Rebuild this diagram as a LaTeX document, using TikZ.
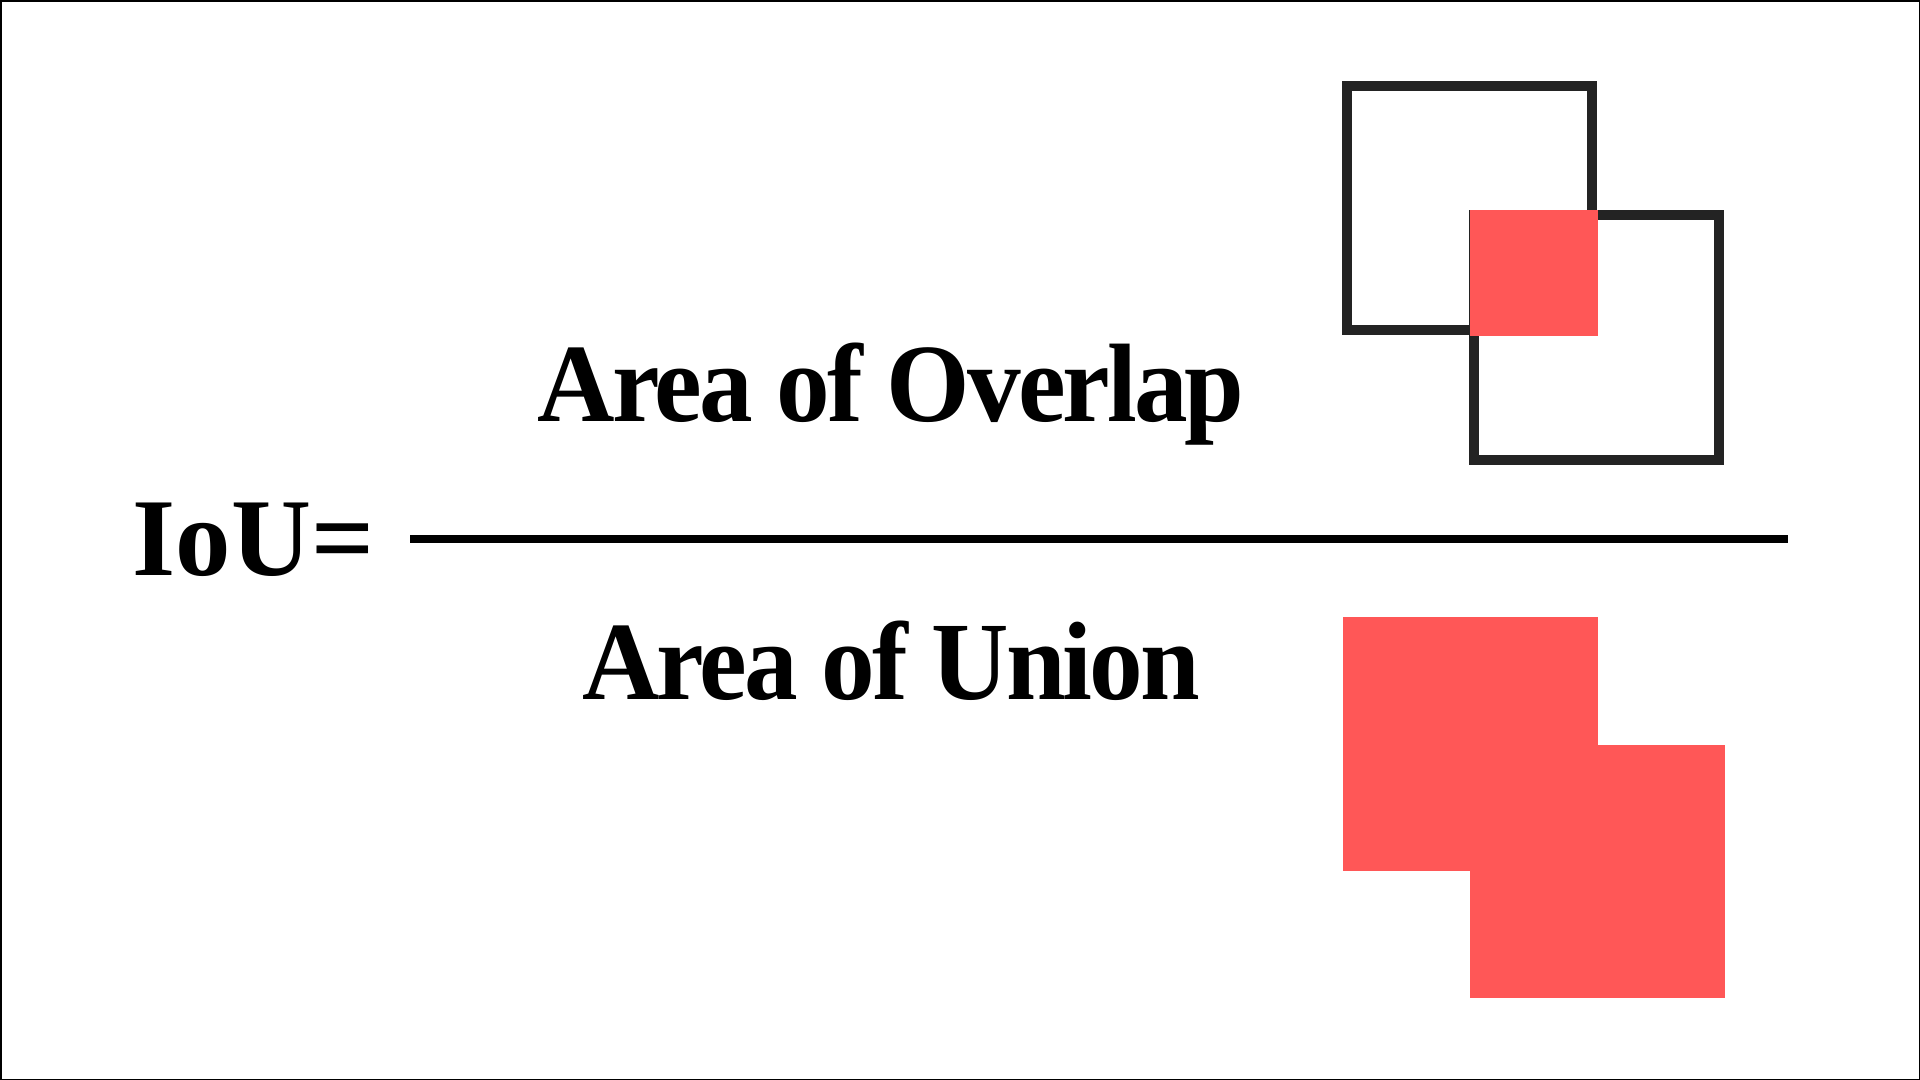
\documentclass[tikz,border=0pt]{standalone}
\usepackage{fontspec}
\setmainfont{Liberation Serif}
\newfontfamily\tightserif[LetterSpace=-2.8]{Liberation Serif}
\usepackage{xcolor}
\usepackage{graphicx}
\usepackage{tikz}
\usetikzlibrary{positioning}

\definecolor{iouRed}{RGB}{255,87,87}
\definecolor{iouGray}{RGB}{35,35,35}
\newcommand{\tallbf}[1]{\scalebox{1}[1.04]{#1}}

\begin{document}
\begin{tikzpicture}[
  x=0.01cm, y=-0.01cm,
  big/.style={font=\tightserif\fontsize{30.5}{36}\selectfont\bfseries,inner sep=0pt},
  bigger/.style={font=\fontsize{31.5}{36}\selectfont\bfseries,inner sep=0pt},
  outline/.style={draw=iouGray,line width=0.1cm,minimum width=2.45cm,minimum height=2.44cm,inner sep=0pt},
  patch/.style={fill=iouRed,inner sep=0pt,anchor=north west}
]
\useasboundingbox (0,0) rectangle (1920,1080);
\draw[line width=0.6pt] (0.3pt,-0.3pt) rectangle (1920,1080) ++(-0.3pt,0.3pt);

% formula
\node[bigger,anchor=base west] (iou) at (132,576) {IoU=};
\coordinate (barL) at (410,539);
\coordinate (barR) at (1788,539);
\draw[line width=0.08cm] (barL) -- (barR);
\node[big,anchor=base] (overlap) at (891,422) {\tallbf{Area of Overlap}};
\node[big,anchor=base] (union) at (891,700) {\tallbf{Area of Union}};

% top: two boxes and their overlap
\node[outline] (boxA) at (1469.5,208) {};
\node[outline] (boxB) at (1596.5,337.5) {};
\node[patch,minimum width=1.28cm,minimum height=1.26cm] (inter) at (1469,209) {};

% bottom: union of the boxes
\node[patch,minimum width=2.55cm,minimum height=2.54cm] (unA) at (1342,616) {};
\node[patch,minimum width=2.55cm,minimum height=2.53cm] (unB) at (1469,744) {};
\end{tikzpicture}
\end{document}
